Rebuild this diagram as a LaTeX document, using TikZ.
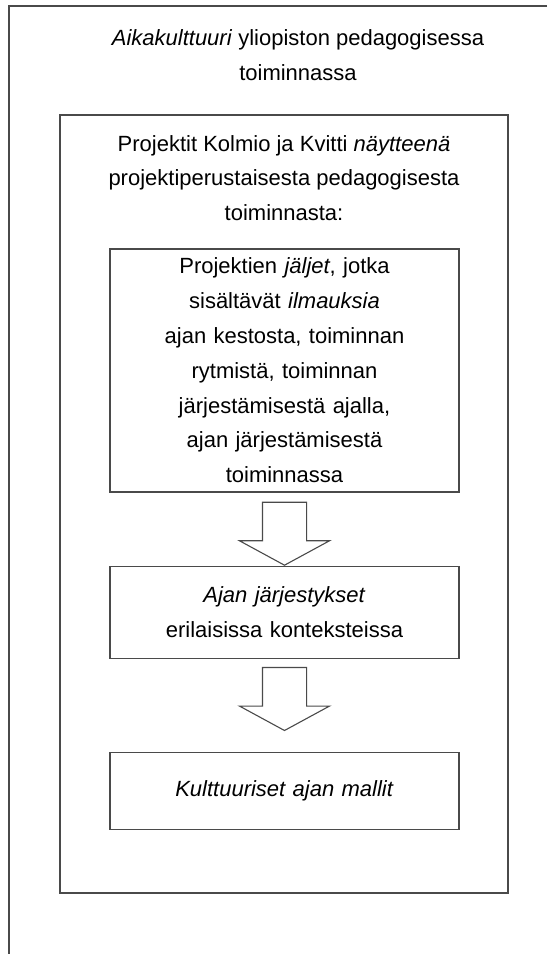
\documentclass[tikz,border=0pt]{standalone}
\usepackage{fontspec}
\setmainfont{Liberation Sans}
\usepackage{xcolor}
\usetikzlibrary{positioning,shapes.arrows}
\definecolor{linegray}{HTML}{4A4A4A}

\begin{document}
\begin{tikzpicture}[
  x=1pt, y=1pt,
  font=\fontsize{22}{34.8}\selectfont,
  frame/.style={draw=linegray, line width=1.4pt},
  box/.style={draw=linegray, line width=1.3pt, align=center,
    text width=345pt, minimum width=349pt, inner sep=0pt},
  heading/.style={align=center, inner sep=0pt},
  bigarrow/.style={draw=linegray, line width=1.1pt, single arrow,
    single arrow head extend=23pt, single arrow tip angle=123,
    minimum width=89pt, minimum height=63pt,
    inner xsep=0pt, inner ysep=21.5pt, rotate=-90}
]
\useasboundingbox (0,0) rectangle (548,-954);

% outer frame, cut by the page on the right and at the bottom
\coordinate (edgeR)  at (547,-6);
\coordinate (corner) at (9,-6);
\coordinate (edgeB)  at (9,-954);
\draw[frame] (edgeR)--(corner)--(edgeB);
\node[heading] (culture) at (298,-55)
  {\textit{Aikakulttuuri} yliopiston pedagogisessa\\toiminnassa};

% projects frame
\node[frame, minimum width=448pt, minimum height=778pt, inner sep=0pt]
  (projects) at (284,-504) {};
\node[heading] (projtitle) at (284,-178)
  {Projektit Kolmio ja Kvitti \textit{näytteenä}\\
   projektiperustaisesta pedagogisesta\\toiminnasta:};

\node[box, minimum height=243pt] (traces) at (284.5,-370.5)
  {Projektien \textit{jäljet}, jotka\\
   sisältävät \textit{ilmauksia}\\
   ajan kestosta, toiminnan\\
   rytmistä, toiminnan\\
   järjestämisestä ajalla,\\
   ajan järjestämisestä\\
   toiminnassa};
\node[box, minimum height=92pt, below=73pt of traces] (orders)
  {\textit{Ajan järjestykset}\\erilaisissa konteksteissa};
\node[box, minimum height=77pt, below=93pt of orders] (models)
  {\textit{Kulttuuriset ajan mallit}};

\node[bigarrow, anchor=tail] (flowA) at ([yshift=-9pt]traces.south) {};
\node[bigarrow, anchor=tail] (flowB) at ([yshift=-8pt]orders.south) {};
\end{tikzpicture}
\end{document}
